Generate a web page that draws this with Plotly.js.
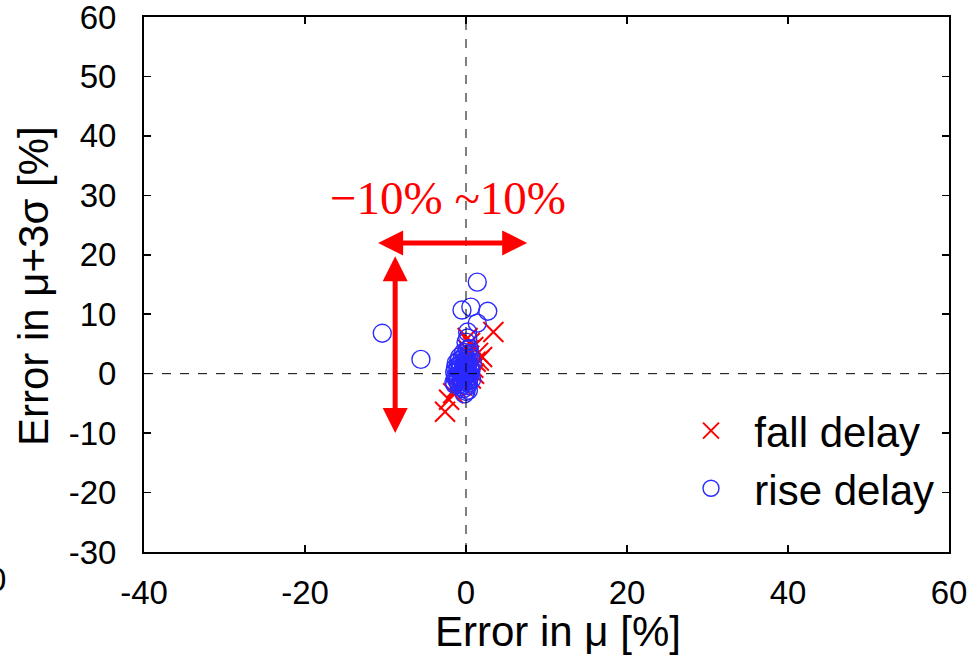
<!DOCTYPE html>
<html>
<head>
<meta charset="utf-8">
<script src="https://cdn.plot.ly/plotly-3.0.1.min.js"></script>
<style>
  html, body { margin: 0; padding: 0; background: #fff; }
  #chart { width: 974px; height: 658px; }
</style>
</head>
<body>
<div id="chart"></div>
<script>
// Error in mean vs. error in mean+3sigma, per timing arc
const fallMu = [3.4, -2.6, 0.2, 0.9, 2.0, 1.5, 0.5, -1.6, -2.1, -1.2, 0.9, 1.2, 0.4, -0.3, -0.8, 0.0, 0.6, 1.0, -0.5, 0.3, 1.6];
const fallMu3s = [7.0, -6.4, 6.0, 4.5, 2.8, 3.5, 5.2, -3.3, -4.4, -2.4, 1.0, 2.0, 3.0, 1.8, -1.0, 0.5, -0.8, 0.0, -2.0, 4.0, 2.2];

const riseMu = [-10.4, -5.6, 1.4, -0.5, 0.6, 2.7, 1.4, 0.2, 0.2, 0.0, 0.4,
  -1.2, -1.0, -0.8, -1.3, -1.1, -0.9, -0.6, -0.3, 0.0, 0.2, 0.3, 0.5, 0.6, 0.5, 0.3, 0.1, -0.2, -0.5, -0.7, -0.4,
  -0.2, 0.0, 0.1, -0.1, 0.4, 0.2, -0.8, -1.4, -1.5, -0.4, 0.7, 0.8, -0.3, 0.0, -0.6, 0.3, -0.9, 0.6, -0.2, -1.0,
  -1.3, -1.2, -0.7, -0.5, -0.1, 0.2, 0.4, -1.0, -0.6, -0.3, 0.1, 0.5, -0.9, -0.4, 0.0, -1.4, -0.2, 0.3];
const riseMu3s = [6.8, 2.4, 15.4, 10.7, 11.2, 10.5, 8.5, 7.0, 6.0, 5.3, 4.2,
  1.8, 1.2, 0.5, -0.5, -1.2, -1.8, -2.2, -2.5, -3.0, -2.0, -1.2, -0.4, 0.4, 1.2, 2.0, 2.6, 3.0, 2.4, 1.0, 0.2,
  -0.6, -1.4, 0.8, 1.6, 3.4, 4.0, 2.8, 0.2, -1.4, -1.8, -1.0, 1.8, 3.6, 0.0, -0.8, -2.8, 2.2, 2.6, -3.4, -0.3,
  1.0, -0.9, 1.6, -1.3, 2.2, 1.5, 0.1, 0.6, 0.0, 1.2, -0.3, 0.8, -0.6, -1.0, 2.0, -1.8, 0.4, -1.6];

const xTicks = [-40, -20, 0, 20, 40, 60];
const yTicks = [-30, -20, -10, 0, 10, 20, 30, 40, 50, 60];

const sans = 'Liberation Sans, Arial, sans-serif';
const serif = 'Liberation Serif, Times New Roman, serif';

const traces = [
  {
    x: fallMu, y: fallMu3s, type: 'scatter', mode: 'markers', name: '&nbsp;&nbsp;fall delay',
    marker: { symbol: 'x-thin-open', size: 20, color: '#ff0000', line: { color: '#ff0000', width: 2 } }
  },
  {
    x: riseMu, y: riseMu3s, type: 'scatter', mode: 'markers', name: '&nbsp;&nbsp;rise delay',
    marker: { symbol: 'circle-open', size: 18, color: '#2a2aff', line: { color: '#2a2aff', width: 1.4 } }
  }
];

const axisCommon = {
  showgrid: false, zeroline: false, showline: true, mirror: 'ticks',
  linecolor: '#000', linewidth: 2, ticks: 'inside', ticklen: 7, tickcolor: '#000', tickwidth: 1.5,
  tickfont: { family: sans, size: 33, color: '#000' }, ticklabeloverflow: 'allow'
};

const layout = {
  width: 974, height: 658,
  margin: { l: 144, r: 25, t: 17, b: 106 },
  paper_bgcolor: '#fff', plot_bgcolor: '#fff',
  showlegend: true,
  legend: {
    x: 0.6795, y: 0.29, xanchor: 'left', yanchor: 'top',
    font: { family: sans, size: 42, color: '#000' },
    bgcolor: 'rgba(0,0,0,0)', itemsizing: 'trace', traceorder: 'normal'
  },
  xaxis: Object.assign({}, axisCommon, {
    range: [-40, 60], tickvals: xTicks, ticktext: xTicks.map(String), ticklabelstandoff: 10
  }),
  yaxis: Object.assign({}, axisCommon, {
    range: [-30, 60], tickvals: yTicks, ticktext: yTicks.map(String), ticklabelstandoff: 19
  }),
  shapes: [
    { type: 'line', xref: 'x', yref: 'paper', x0: 0, x1: 0, y0: 0, y1: 1, line: { color: '#000', width: 1, dash: 'dash' } },
    { type: 'line', xref: 'paper', yref: 'y', x0: 0, x1: 1, y0: 0, y1: 0, line: { color: '#000', width: 1, dash: 'dash' } }
  ],
  annotations: [
    {
      xref: 'x', yref: 'y', x: 7.6, y: 22, axref: 'x', ayref: 'y', ax: -11.1, ay: 22,
      text: '', showarrow: true, arrowhead: 2, arrowside: 'end+start', arrowsize: 1, arrowwidth: 5, arrowcolor: '#ff0000'
    },
    {
      xref: 'x', yref: 'y', x: -8.8, y: -10, axref: 'x', ayref: 'y', ax: -8.8, ay: 20,
      text: '', showarrow: true, arrowhead: 2, arrowside: 'end+start', arrowsize: 1, arrowwidth: 5, arrowcolor: '#ff0000'
    },
    {
      xref: 'x', yref: 'y', x: -2.2, y: 29.5, showarrow: false,
      text: '−10% ~10%', font: { family: serif, size: 47, color: '#ff0000' }
    },
    // axis titles
    {
      xref: 'paper', yref: 'paper', x: 0.514, y: -0.148, xanchor: 'center', yanchor: 'middle', showarrow: false,
      text: 'Error in μ [%]', font: { family: sans, size: 42, color: '#000' }
    },
    {
      xref: 'paper', yref: 'paper', x: -0.138, y: 0.497, xanchor: 'center', yanchor: 'middle', showarrow: false,
      textangle: -90, text: 'Error in μ+3σ [%]', font: { family: sans, size: 42, color: '#000' }
    },
    {
      xref: 'paper', yref: 'paper', x: -0.169, y: -0.052, xanchor: 'right', yanchor: 'middle', showarrow: false,
      text: '0', font: { family: sans, size: 33, color: '#000' }
    }
  ]
};

Plotly.newPlot('chart', traces, layout, { displayModeBar: false, staticPlot: true });
</script>
</body>
</html>
